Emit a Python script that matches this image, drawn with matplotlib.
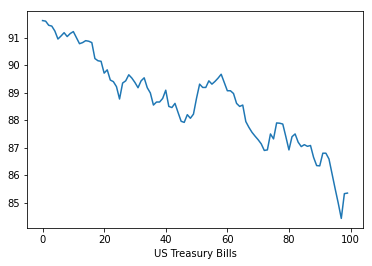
import matplotlib
matplotlib.use("Agg")
import matplotlib.pyplot as plt

# US Treasury bill contracts, 100 consecutive trading days
days = list(range(100))
price = [
    91.62, 91.60, 91.45, 91.42, 91.24, 90.95, 91.06, 91.18, 91.04, 91.15,
    91.22, 91.00, 90.78, 90.82, 90.89, 90.87, 90.82, 90.24, 90.16, 90.14,
    89.71, 89.83, 89.46, 89.40, 89.22, 88.77, 89.35, 89.43, 89.65, 89.53,
    89.37, 89.18, 89.43, 89.54, 89.18, 88.99, 88.55, 88.66, 88.66, 88.79,
    89.09, 88.50, 88.46, 88.61, 88.28, 87.96, 87.92, 88.20, 88.07, 88.22,
    88.80, 89.31, 89.19, 89.19, 89.43, 89.31, 89.41, 89.53, 89.67, 89.37,
    89.07, 89.07, 88.97, 88.61, 88.50, 88.55, 87.95, 87.74, 87.56, 87.42,
    87.29, 87.14, 86.90, 86.92, 87.50, 87.32, 87.90, 87.89, 87.86, 87.40,
    86.92, 87.40, 87.50, 87.20, 87.04, 87.11, 87.05, 87.08, 86.65, 86.35,
    86.34, 86.80, 86.80, 86.59, 86.05, 85.51, 84.99, 84.43, 85.33, 85.35,
]

fig = plt.figure(figsize=(372 / 72, 266 / 72), dpi=72)
ax = fig.add_axes([27.3 / 372, 1 - 228.3 / 266, (362.7 - 27.3) / 372, (228.3 - 10.7) / 266])
ax.plot(days, price, color="tab:blue", linewidth=1.5)
ax.set_xticks([0, 20, 40, 60, 80, 100])
ax.set_yticks([85, 86, 87, 88, 89, 90, 91])
ax.set_xlabel("US Treasury Bills")
fig.savefig("out.png", dpi=72)
